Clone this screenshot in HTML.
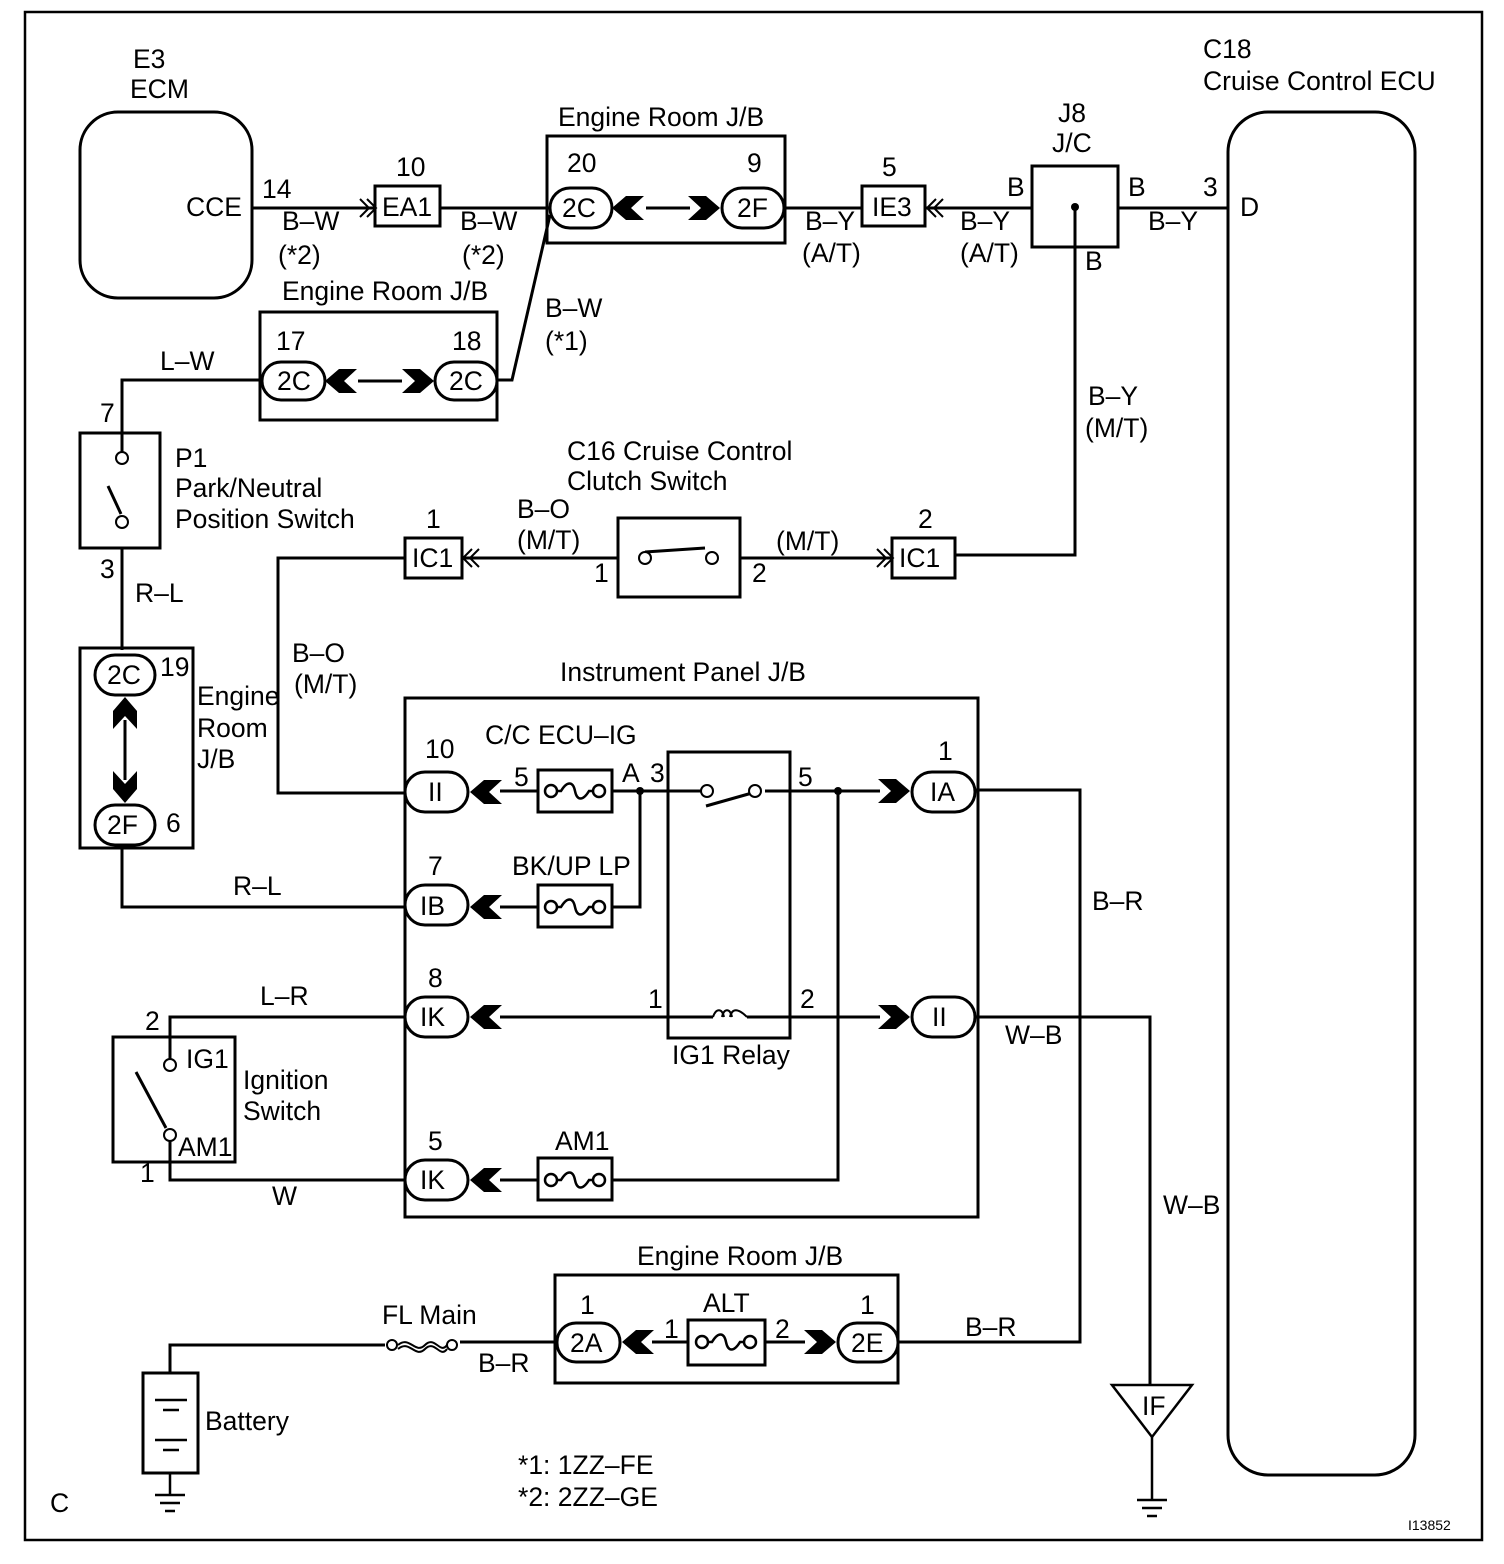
<!DOCTYPE html>
<html><head><meta charset="utf-8"><style>
html,body{margin:0;padding:0;background:#fff}
svg{display:block}
text{font-family:"Liberation Sans",Arial,sans-serif;font-size:26.5px;fill:#000}
</style></head><body>
<svg width="1504" height="1564" viewBox="0 0 1504 1564" xmlns="http://www.w3.org/2000/svg">
<defs>
<polygon id="ar" points="-32,-12 -14,-12 0,0 -14,12 -32,12 -19,0" fill="#000"/>
<path id="fa" d="M0,-9 L9,0 L0,9 M-7,-9 L2,0 L-7,9" fill="none" stroke="#000" stroke-width="2"/>
<path id="fuse" d="M-24,0 m-6,0 a6,6 0 1,0 12,0 a6,6 0 1,0 -12,0 M-18,0 L-14,0 C-8,-10 -2,-10 0,0 C2,10 8,10 14,0 L18,0 M18,0 a6,6 0 1,0 12,0 a6,6 0 1,0 -12,0" fill="none" stroke="#000" stroke-width="2.5"/>
</defs>
<g fill="none" stroke="#000" stroke-width="3">
<rect x="25" y="12" width="1457" height="1528" stroke-width="2.5"/>
<rect x="80" y="112" width="172" height="186" rx="38"/>
<rect x="1228" y="112" width="187" height="1363" rx="40"/>
<path d="M252,208 H375 M440,208 H550 M785,208 H862 M925,208 H1032 M1118,208 H1228"/>
<rect x="375" y="186" width="65" height="40"/>
<rect x="547" y="136" width="238" height="107"/>
<rect x="550" y="188" width="62" height="40" rx="20"/>
<rect x="722" y="188" width="62" height="40" rx="20"/>
<path d="M646,208 H690"/>
<rect x="862" y="186" width="63" height="40"/>
<rect x="1032" y="166" width="86" height="81"/>
<path d="M1075,207 V555 H955"/>
<path d="M550,215 L512,380 H497"/>
<rect x="260" y="312" width="237" height="108"/>
<rect x="262" y="362" width="63" height="38" rx="19"/>
<rect x="435" y="362" width="62" height="38" rx="19"/>
<path d="M358,381 H402"/>
<path d="M262,380 H122 V452"/>
<rect x="80" y="433" width="80" height="115"/>
<path d="M122,548 V650"/>
<path d="M108,486 L121,514"/>
<rect x="80" y="648" width="113" height="200"/>
<rect x="95" y="655" width="60" height="40" rx="20"/>
<rect x="95" y="805" width="60" height="40" rx="20"/>
<path d="M125,720 V780"/>
<path d="M122,848 V907 H405"/>
<rect x="892" y="538" width="63" height="40"/>
<rect x="618" y="518" width="122" height="79"/>
<path d="M740,558 H892 M618,558 H462"/>
<path d="M645,552 L705,548"/>
<rect x="405" y="538" width="57" height="40"/>
<path d="M405,558 H278 V793 H405"/>
<rect x="405" y="698" width="573" height="519"/>
<rect x="405" y="772" width="63" height="40" rx="20"/>
<rect x="538" y="770" width="74" height="42"/>
<path d="M500,791 H538 M612,791 H703 M765,791 H790 M790,791 H880"/>
<path d="M706,806 L752,793"/>
<rect x="668" y="752" width="122" height="286"/>
<path d="M640,791 V907 H612 M538,907 H500"/>
<rect x="912" y="772" width="63" height="40" rx="20"/>
<path d="M975,790 H1080 V1342 H898"/>
<rect x="405" y="885" width="63" height="40" rx="20"/>
<rect x="538" y="885" width="74" height="42"/>
<rect x="405" y="997" width="63" height="40" rx="20"/>
<path d="M500,1017 H713 M747,1017 H880"/>
<path d="M713,1017 C716,1008 722,1008 724,1017 M722,1017 C724,1008 730,1008 732,1017 M730,1017 C732,1008 738,1008 747,1017" stroke-width="2"/>
<rect x="912" y="997" width="63" height="40" rx="20"/>
<path d="M975,1017 H1150 V1385"/>
<path d="M405,1017 H170 V1059"/>
<rect x="113" y="1037" width="122" height="125"/>
<path d="M166,1128 L136,1072"/>
<path d="M170,1141 V1180 H405"/>
<rect x="405" y="1160" width="63" height="40" rx="20"/>
<rect x="538" y="1158" width="74" height="42"/>
<path d="M500,1180 H538 M612,1180 H838 V791"/>
<rect x="555" y="1275" width="343" height="108"/>
<rect x="557" y="1323" width="63" height="39" rx="19"/>
<rect x="838" y="1323" width="60" height="39" rx="19"/>
<rect x="688" y="1320" width="77" height="45"/>
<path d="M652,1342 H688 M765,1342 H805"/>
<path d="M555,1342 H460 M385,1345 H170 V1373"/>
<rect x="143" y="1373" width="55" height="100"/>
<path d="M155,1400 H187 M163,1410 H179 M155,1440 H187 M163,1450 H179" stroke-width="2.5"/>
<path d="M170,1473 V1495 M155,1495 H185 M160,1503 H180 M165,1511 H175" stroke-width="2.5"/>
<polygon points="1112,1385 1192,1385 1152,1437" stroke-width="2.5"/>
<path d="M1152,1437 V1500 M1137,1500 H1167 M1142,1508 H1162 M1147,1516 H1157" stroke-width="2.5"/>
</g>
<g fill="#fff" stroke="#000" stroke-width="2">
<circle cx="122" cy="458" r="6"/><circle cx="122" cy="522" r="6"/>
<circle cx="645" cy="558" r="6"/><circle cx="712" cy="558" r="6"/>
<circle cx="707" cy="791" r="6"/><circle cx="755" cy="791" r="6"/>
<circle cx="170" cy="1065" r="6"/><circle cx="170" cy="1135" r="6"/>
<circle cx="392" cy="1345" r="5"/><circle cx="452" cy="1345" r="5"/>
</g>
<path d="M398,1345 C410,1335 415,1355 425,1345 C435,1335 440,1355 447,1345 M398,1349 C410,1339 415,1359 425,1349 C435,1339 440,1359 447,1349" fill="none" stroke="#000" stroke-width="2"/>
<g fill="#000"><circle cx="1075" cy="207" r="4"/><circle cx="640" cy="791" r="4"/><circle cx="838" cy="791" r="4"/></g>
<use href="#fuse" x="575" y="791"/><use href="#fuse" x="575" y="907"/><use href="#fuse" x="575" y="1180"/>
<use href="#fuse" x="726" y="1342"/>
<use href="#ar" transform="translate(612,208) scale(-1,1)"/>
<use href="#ar" transform="translate(720,208)"/>
<use href="#ar" transform="translate(325,381) scale(-1,1)"/>
<use href="#ar" transform="translate(434,381)"/>
<use href="#ar" transform="translate(125,697) rotate(-90)"/>
<use href="#ar" transform="translate(125,803) rotate(90)"/>
<use href="#ar" transform="translate(470,792) scale(-1,1)"/>
<use href="#ar" transform="translate(470,907) scale(-1,1)"/>
<use href="#ar" transform="translate(470,1017) scale(-1,1)"/>
<use href="#ar" transform="translate(470,1180) scale(-1,1)"/>
<use href="#ar" transform="translate(910,791)"/>
<use href="#ar" transform="translate(910,1017)"/>
<use href="#ar" transform="translate(622,1342) scale(-1,1)"/>
<use href="#ar" transform="translate(836,1342)"/>
<use href="#fa" transform="translate(367,208)"/>
<use href="#fa" transform="translate(936,208) scale(-1,1)"/>
<use href="#fa" transform="translate(472,558) scale(-1,1)"/>
<use href="#fa" transform="translate(884,558)"/>
<text x="133" y="68">E3</text><text x="130" y="98">ECM</text>
<text x="186" y="216">CCE</text><text x="262" y="198">14</text>
<text x="282" y="230">B–W</text><text x="278" y="264">(*2)</text>
<text x="396" y="176">10</text><text x="382" y="216">EA1</text>
<text x="460" y="230">B–W</text><text x="462" y="264">(*2)</text>
<text x="558" y="126">Engine Room J/B</text>
<text x="567" y="172">20</text><text x="562" y="217">2C</text>
<text x="747" y="172">9</text><text x="737" y="217">2F</text>
<text x="805" y="230">B–Y</text><text x="802" y="262">(A/T)</text>
<text x="882" y="176">5</text><text x="872" y="216">IE3</text>
<text x="960" y="230">B–Y</text><text x="960" y="262">(A/T)</text>
<text x="1007" y="196">B</text><text x="1128" y="196">B</text><text x="1085" y="270">B</text>
<text x="1058" y="122">J8</text><text x="1052" y="152">J/C</text>
<text x="1203" y="196">3</text><text x="1148" y="230">B–Y</text>
<text x="1203" y="58">C18</text><text x="1203" y="90">Cruise Control ECU</text>
<text x="1240" y="216">D</text>
<text x="545" y="317">B–W</text><text x="545" y="350">(*1)</text>
<text x="282" y="300">Engine Room J/B</text>
<text x="276" y="350">17</text><text x="277" y="390">2C</text>
<text x="452" y="350">18</text><text x="449" y="390">2C</text>
<text x="160" y="370">L–W</text><text x="100" y="422">7</text>
<text x="175" y="467">P1</text><text x="175" y="497">Park/Neutral</text><text x="175" y="528">Position Switch</text>
<text x="100" y="578">3</text><text x="135" y="602">R–L</text>
<text x="107" y="684">2C</text><text x="160" y="676">19</text>
<text x="107" y="834">2F</text><text x="166" y="832">6</text>
<text x="197" y="705">Engine</text><text x="197" y="737">Room</text><text x="197" y="768">J/B</text>
<text x="567" y="460">C16 Cruise Control</text><text x="567" y="490">Clutch Switch</text>
<text x="426" y="528">1</text><text x="412" y="567">IC1</text>
<text x="517" y="518">B–O</text><text x="517" y="549">(M/T)</text>
<text x="594" y="582">1</text><text x="752" y="582">2</text><text x="776" y="550">(M/T)</text>
<text x="918" y="528">2</text><text x="899" y="567">IC1</text>
<text x="1088" y="405">B–Y</text><text x="1085" y="437">(M/T)</text>
<text x="292" y="662">B–O</text><text x="294" y="693">(M/T)</text>
<text x="560" y="681">Instrument Panel J/B</text>
<text x="485" y="744">C/C ECU–IG</text>
<text x="425" y="758">10</text><text x="428" y="801">II</text>
<text x="514" y="786">5</text><text x="622" y="782">A</text><text x="650" y="782">3</text>
<text x="798" y="786">5</text><text x="938" y="760">1</text><text x="930" y="801">IA</text>
<text x="1092" y="910">B–R</text>
<text x="428" y="875">7</text><text x="420" y="915">IB</text>
<text x="512" y="875">BK/UP LP</text><text x="233" y="895">R–L</text>
<text x="428" y="987">8</text><text x="420" y="1026">IK</text>
<text x="648" y="1008">1</text><text x="800" y="1008">2</text>
<text x="932" y="1026">II</text><text x="1005" y="1044">W–B</text>
<text x="672" y="1064">IG1 Relay</text>
<text x="260" y="1005">L–R</text><text x="145" y="1030">2</text>
<text x="186" y="1068">IG1</text><text x="178" y="1156">AM1</text>
<text x="243" y="1089">Ignition</text><text x="243" y="1120">Switch</text>
<text x="140" y="1182">1</text><text x="272" y="1205">W</text>
<text x="428" y="1150">5</text><text x="420" y="1189">IK</text>
<text x="555" y="1150">AM1</text>
<text x="1163" y="1214">W–B</text>
<text x="637" y="1265">Engine Room J/B</text>
<text x="580" y="1314">1</text><text x="570" y="1352">2A</text>
<text x="664" y="1338">1</text><text x="703" y="1312">ALT</text><text x="775" y="1338">2</text>
<text x="860" y="1314">1</text><text x="851" y="1352">2E</text>
<text x="965" y="1336">B–R</text>
<text x="382" y="1324">FL Main</text><text x="478" y="1372">B–R</text>
<text x="205" y="1430">Battery</text>
<text x="1142" y="1415">IF</text>
<text x="518" y="1474">*1: 1ZZ–FE</text><text x="518" y="1506">*2: 2ZZ–GE</text>
<text x="50" y="1512">C</text>
<text x="1408" y="1530" style="font-size:14px">I13852</text>
</svg>
</body></html>
